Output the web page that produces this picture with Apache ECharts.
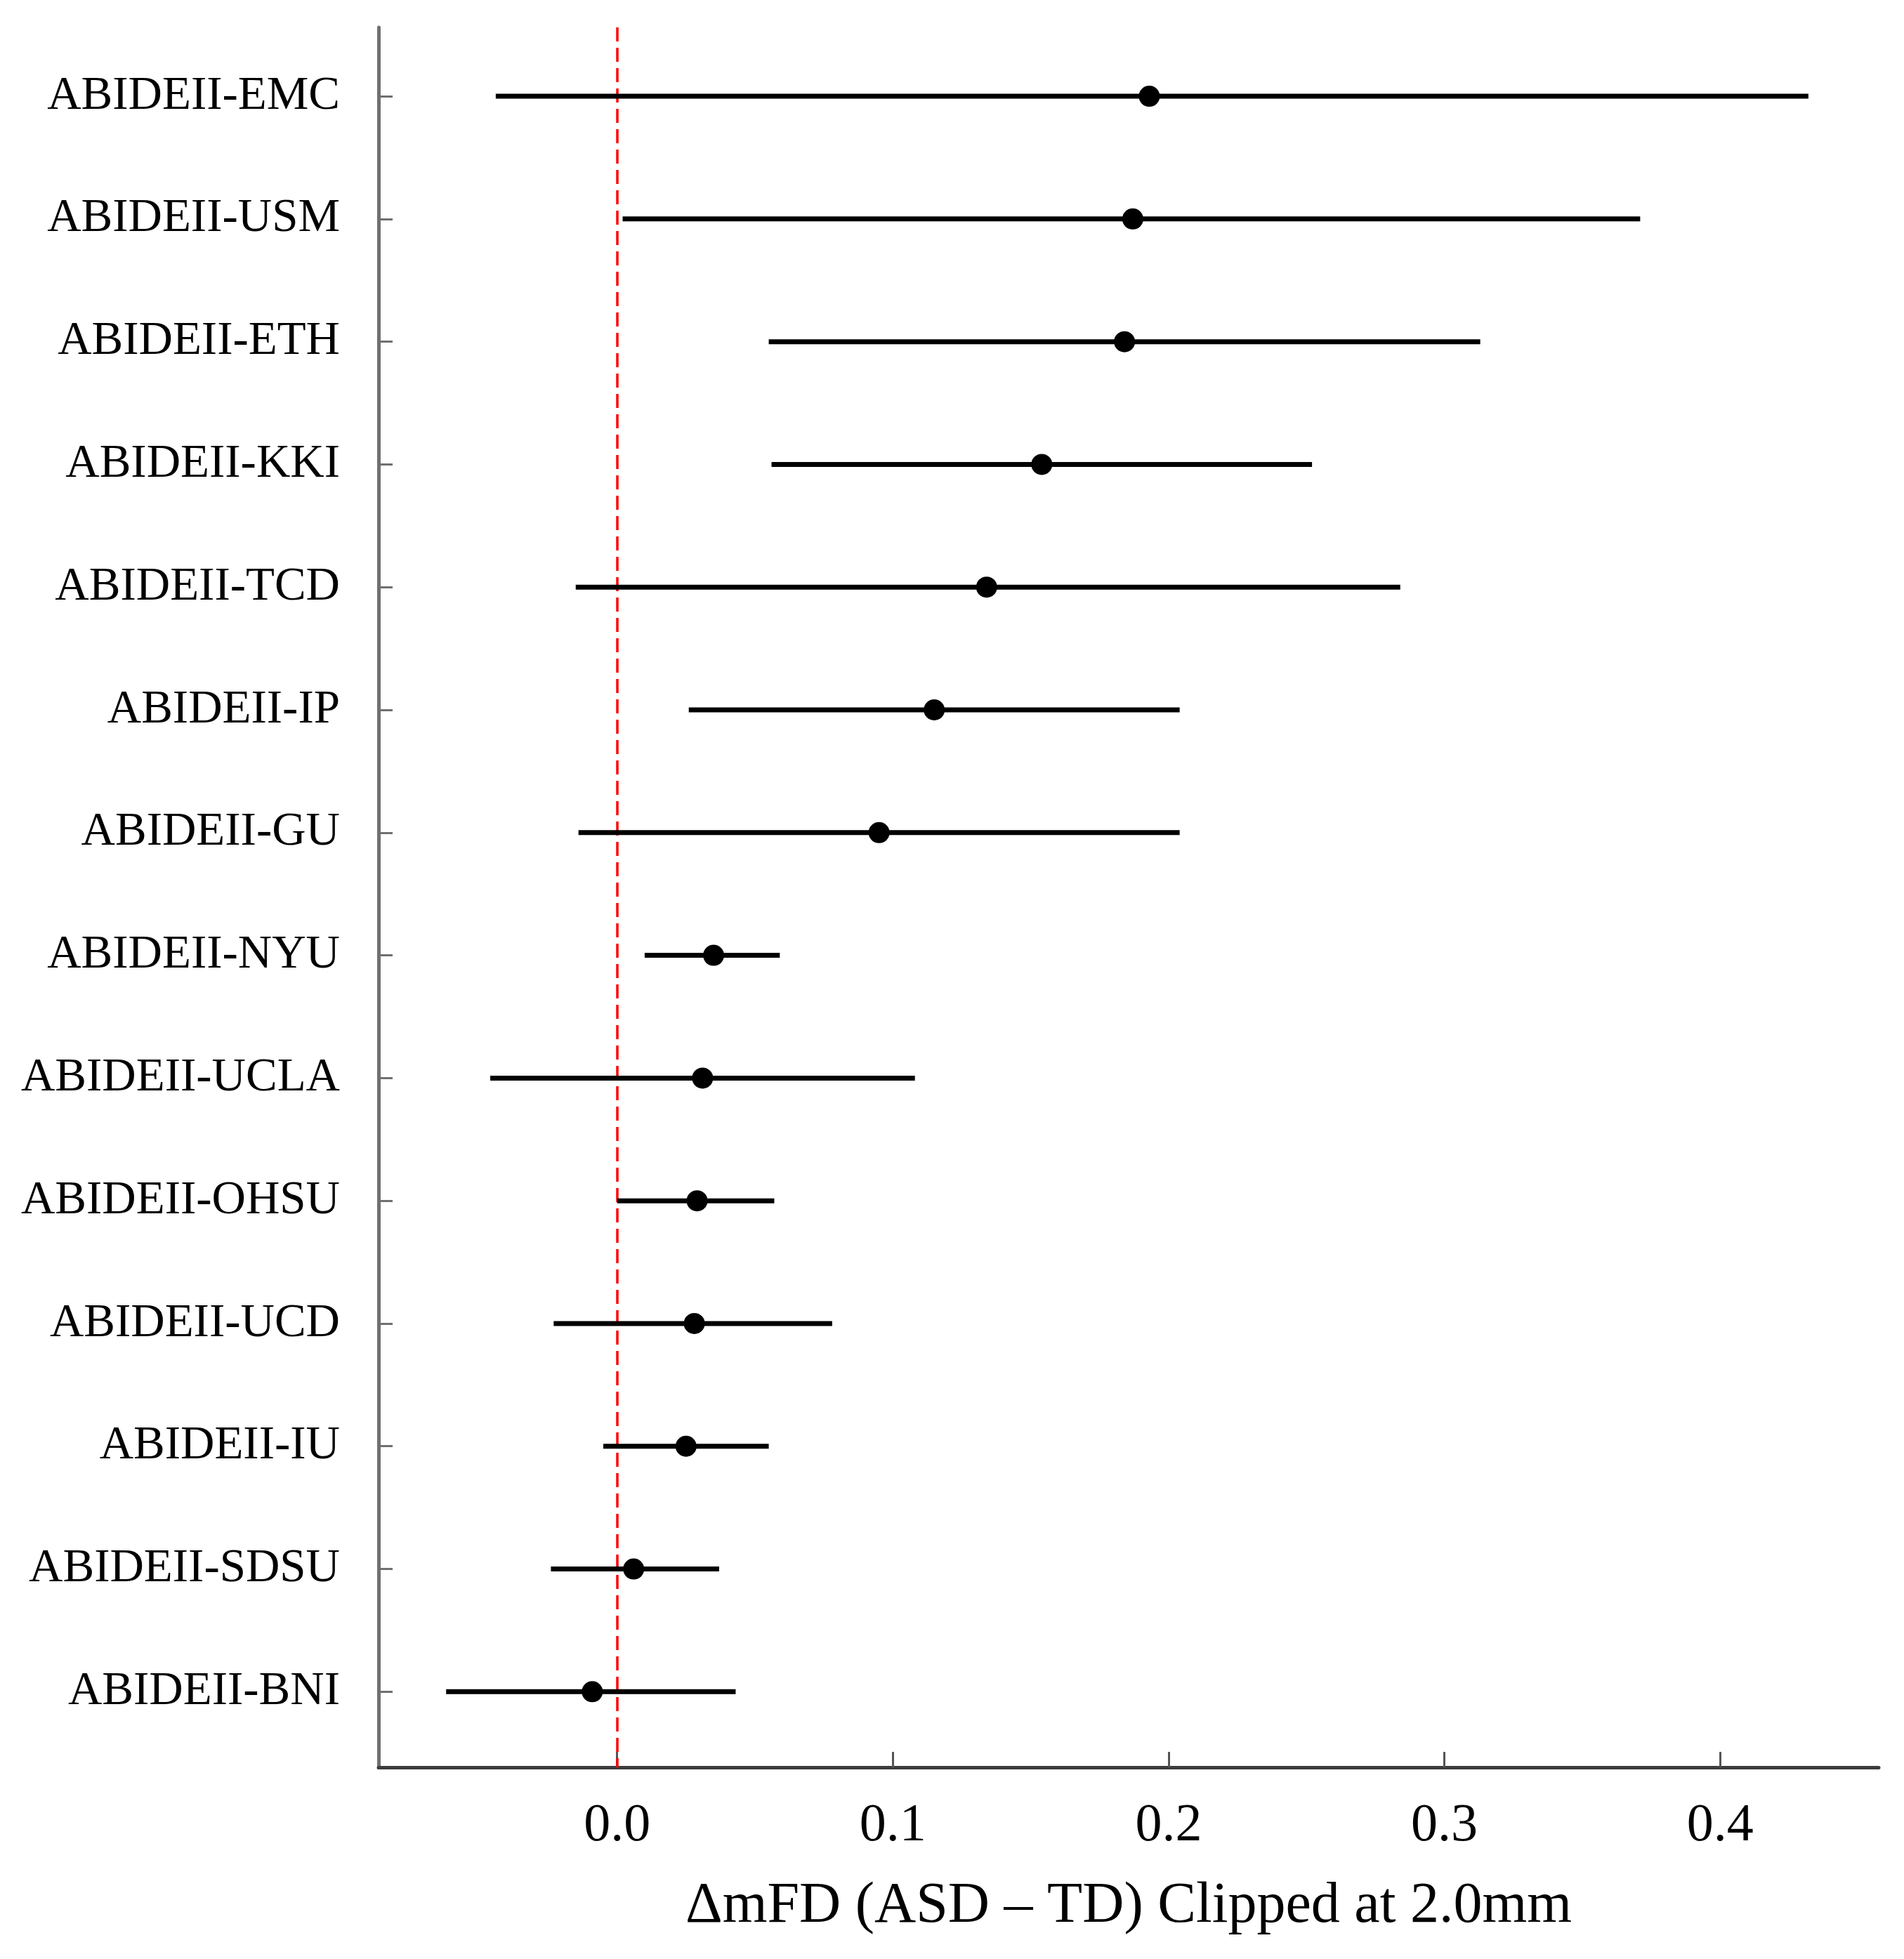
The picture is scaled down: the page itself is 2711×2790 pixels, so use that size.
<!DOCTYPE html>
<html>
<head>
<meta charset="utf-8">
<script src="https://cdn.jsdelivr.net/npm/echarts@6/dist/echarts.min.js"></script>
<style>
html,body{margin:0;padding:0;background:#fff;}
#chart{width:2711px;height:2790px;}
</style>
</head>
<body>
<div id="chart"></div>
<script>
var sites = ['ABIDEII-EMC','ABIDEII-USM','ABIDEII-ETH','ABIDEII-KKI','ABIDEII-TCD','ABIDEII-IP','ABIDEII-GU','ABIDEII-NYU','ABIDEII-UCLA','ABIDEII-OHSU','ABIDEII-UCD','ABIDEII-IU','ABIDEII-SDSU','ABIDEII-BNI'];
var estimate = [0.193, 0.187, 0.184, 0.154, 0.134, 0.115, 0.095, 0.035, 0.031, 0.029, 0.028, 0.025, 0.006, -0.009];
var lower = [-0.044, 0.002, 0.055, 0.056, -0.015, 0.026, -0.014, 0.010, -0.046, 0.000, -0.023, -0.005, -0.024, -0.062];
var upper = [0.432, 0.371, 0.313, 0.252, 0.284, 0.204, 0.204, 0.059, 0.108, 0.057, 0.078, 0.055, 0.037, 0.043];
var xTicks = [0.0, 0.1, 0.2, 0.3, 0.4];
var xTitle = 'ΔmFD (ASD – TD) Clipped at 2.0mm';

var rowIdx = sites.map(function(s, i){ return i; });
var barData = sites.map(function(s, i){ return [lower[i], upper[i], i]; });
var pointData = sites.map(function(s, i){ return [estimate[i], i]; });

var chart = echarts.init(document.getElementById('chart'));
var font = '"Liberation Serif", "Times New Roman", serif';
chart.setOption({
  animation: false,
  backgroundColor: '#ffffff',
  grid: { left: 539, right: 36, top: 39, bottom: 273, containLabel: false },
  xAxis: {
    type: 'value',
    min: -0.0865, max: 0.4575,
    splitLine: { show: false },
    axisLine: { show: true, onZero: false, lineStyle: { color: '#3c3c3c', width: 5 } },
    axisTick: { show: true, inside: true, length: 22, customValues: xTicks, lineStyle: { color: '#555', width: 3 } },
    axisLabel: { customValues: xTicks, formatter: function(v){ return v.toFixed(1); }, color: '#000', fontFamily: font, fontSize: 76, margin: 46 },
    name: xTitle,
    nameLocation: 'middle',
    nameGap: 157,
    nameTextStyle: { color: '#000', fontFamily: font, fontSize: 82 }
  },
  yAxis: {
    type: 'value',
    inverse: true,
    min: -0.561, max: 13.616,
    splitLine: { show: false },
    axisLine: { show: true, onZero: false, lineStyle: { color: '#707070', width: 5 } },
    axisTick: { show: true, inside: true, length: 20, customValues: rowIdx, lineStyle: { color: '#707070', width: 3 } },
    axisLabel: { customValues: rowIdx, formatter: function(v){ return sites[Math.round(v)] || ''; }, color: '#000', fontFamily: font, fontSize: 67, margin: 55 }
  },
  series: [
    {
      type: 'custom',
      data: barData,
      encode: { x: [0, 1], y: 2 },
      renderItem: function(params, api){
        var a = api.coord([api.value(0), api.value(2)]);
        var b = api.coord([api.value(1), api.value(2)]);
        return { type: 'line', shape: { x1: a[0], y1: a[1], x2: b[0], y2: b[1] }, style: { stroke: '#000', lineWidth: 7 } };
      },
      z: 3,
      markLine: {
        silent: true,
        symbol: ['none', 'none'],
        label: { show: false },
        lineStyle: { color: '#ff0000', width: 3.5, type: [20, 9] },
        data: [{ xAxis: 0 }],
        z: 2
      }
    },
    {
      type: 'scatter',
      data: pointData,
      symbol: 'circle',
      symbolSize: 30,
      itemStyle: { color: '#000', opacity: 1 },
      z: 4
    }
  ]
});
</script>
</body>
</html>
